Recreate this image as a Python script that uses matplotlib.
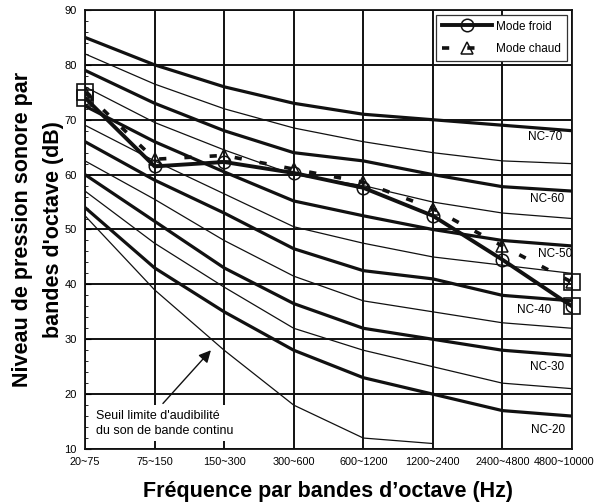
import matplotlib
matplotlib.use("Agg")
import matplotlib.pyplot as plt

plt.rcParams['font.family'] = ['Liberation Sans', 'DejaVu Sans']

# octave bands (Hz)
bands = ["20~75", "75~150", "150~300", "300~600", "600~1200",
         "1200~2400", "2400~4800", "4800~10000"]

# NC curves, dB per band
nc_curves = {
    70: [85, 80, 76, 73, 71, 70, 69, 68],
    65: [82, 76.5, 72, 68.5, 66, 64, 62.5, 62],
    60: [79, 73, 68, 64, 62.5, 60, 57.8, 57],
    55: [76, 69.5, 64.5, 60, 58, 55, 53, 52],
    50: [72.5, 66, 60.5, 55.2, 52.5, 50, 48, 47],
    45: [69, 62.5, 56.5, 50.5, 47.5, 45, 43.5, 42],
    40: [66, 59, 53, 46.5, 42.5, 41, 38, 37],
    35: [62.5, 55.5, 48, 41.5, 37, 35, 33, 32],
    30: [60, 51.5, 43, 36.5, 32, 30, 28, 27],
    25: [57, 47.5, 39.5, 32, 28, 25, 22, 21],
    20: [54, 43, 35, 28, 23, 20, 17, 16],
}
# threshold of audibility (continuous spectrum), stops at 1200~2400
seuil = [52.5, 39, 28, 18, 12, 11]

# measured levels
mode_froid = [74, 61.5, 62.3, 60.3, 57.6, 52.5, 44.5, 36]
mode_chaud = [75, 62.8, 63.5, 61, 58.6, 53.8, 47, 40.4]

nc_labels = [70, 60, 50, 40, 30, 20]
nc_label_x = [6.61, 6.64, 6.76, 6.46, 6.64, 6.65]
nc_label_y = [66.8, 55.5, 45.6, 35.4, 24.9, 13.4]

fig = plt.figure(figsize=(5.95, 5.04), dpi=100)
ax = fig.add_axes([0.1429, 0.1091, 0.8184, 0.8711])

x = list(range(len(bands)))

for nc, vals in nc_curves.items():
    thick = nc % 10 == 0
    ax.plot(x, vals, color='#111111', lw=2.3 if thick else 0.9,
            solid_joinstyle='round', zorder=3)
ax.plot(x[:len(seuil)], seuil, color='#111111', lw=0.9, zorder=3)

for nc, lx, ly in zip(nc_labels, nc_label_x, nc_label_y):
    ax.text(lx, ly, f"NC-{nc}", ha='center', va='center', fontsize=8.5, zorder=4)

ax.plot(x, mode_chaud, color='#111111', lw=2.6, ls=(0, (2, 5)),
        marker='^', ms=8, mfc='none', mec='#111111', mew=1.1,
        zorder=5, label='Mode chaud')
ax.plot(x, mode_froid, color='#111111', lw=2.8,
        marker='o', ms=9, mfc='none', mec='#111111', mew=1.1,
        zorder=6, label='Mode froid')

# squares around the end points
for series in (mode_froid, mode_chaud):
    ax.plot([x[0], x[-1]], [series[0], series[-1]], ls='none', marker='s',
            ms=11, mfc='none', mec='#111111', mew=1.2, zorder=7, clip_on=False)

ax.set_xlim(0, 7)
ax.set_ylim(10, 90)
ax.set_xticks(x)
ax.set_xticklabels([])
# band labels drawn as text so the last one can sit a bit left of its tick
for i, b in enumerate(bands):
    dx = -0.11 if i == len(bands) - 1 else 0
    ax.text(i + dx, -0.029, b, transform=ax.get_xaxis_transform(),
            ha='center', va='center', fontsize=7.8)

ax.set_yticks(range(10, 91, 10))
ax.set_yticks(range(10, 91, 2), minor=True)
ax.tick_params(axis='y', which='major', direction='in', length=4, labelsize=8, pad=6)
ax.tick_params(axis='y', which='minor', direction='in', length=2.5)
ax.tick_params(axis='x', direction='in', length=0)

ax.set_axisbelow(True)
ax.grid(True, color='#111111', lw=1.4)
for sp in ax.spines.values():
    sp.set_linewidth(1.3)
    sp.set_color('#111111')

ax.set_xlabel("Fréquence par bandes d’octave (Hz)", fontsize=15.5,
              fontweight='bold')
ax.xaxis.set_label_coords(0.5, -0.072)
ax.set_ylabel("Niveau de pression sonore par\nbandes d'octave (dB)",
              fontsize=15.5, fontweight='bold', labelpad=0, linespacing=1.65)

ax.annotate("", xy=(1.81, 28.0), xytext=(1.12, 18.3),
            arrowprops=dict(arrowstyle='-|>', color='#111111', lw=1.0,
                            mutation_scale=18, shrinkA=0, shrinkB=0),
            zorder=4)
ax.text(0.16, 14.7, "Seuil limite d'audibilité\ndu son de bande continu",
        fontsize=9, ha='left', va='center', linespacing=1.35, zorder=4,
        bbox=dict(boxstyle='square,pad=0.35', fc='white', ec='none'))

# legend: froid first
h, l = ax.get_legend_handles_labels()
leg = ax.legend(h[::-1], l[::-1], loc='upper right', fontsize=8.5,
                handlelength=4.2, numpoints=1, fancybox=False,
                edgecolor='#333333', framealpha=1, borderaxespad=0.4,
                borderpad=0.5, labelspacing=0.9, handletextpad=0.4)
leg.get_frame().set_linewidth(0.9)
leg.set_zorder(10)

fig.savefig("out.png", dpi=100)
